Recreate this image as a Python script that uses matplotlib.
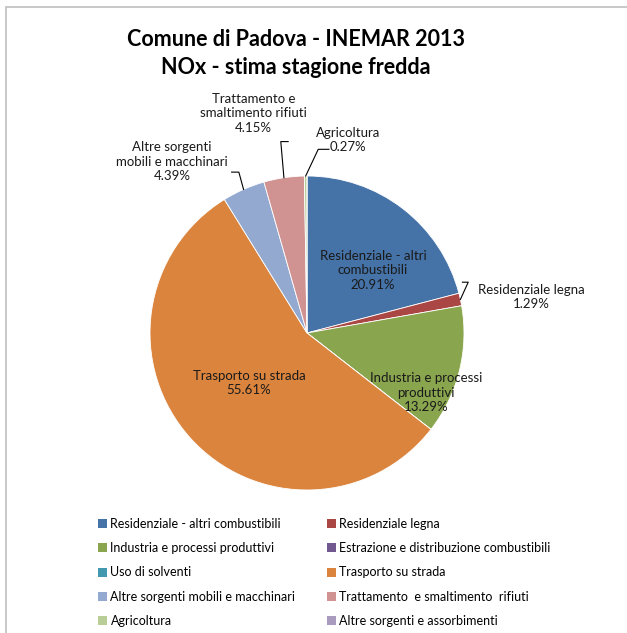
import matplotlib.pyplot as plt
import matplotlib.patches as patches
import numpy as np

# dati INEMAR 2013 - NOx stagione fredda (%)
categories = ['Residenziale - altri combustibili', 'Residenziale legna',
              'Industria e processi produttivi', 'Estrazione e distribuzione combustibili',
              'Uso di solventi', 'Trasporto su strada',
              'Altre sorgenti mobili e macchinari', 'Trattamento  e smaltimento  rifiuti',
              'Agricoltura', 'Altre sorgenti e assorbimenti']
values = [20.91, 1.29, 13.29, 0.0, 0.0, 55.61, 4.39, 4.15, 0.27, 0.0]
slice_labels = ['Residenziale - altri\ncombustibili', 'Residenziale legna', 'Industria e processi\nproduttivi',
                '', '', 'Trasporto su strada', 'Altre sorgenti\nmobili e macchinari',
                'Trattamento e\nsmaltimento rifiuti', 'Agricoltura', '']
colors = ['#4572A7', '#AA4643', '#89A54E', '#71588F', '#4198AF',
          '#DB843D', '#93A9CF', '#D19392', '#B9CD96', '#A99BBD']

plt.rcParams['font.family'] = ['Lato', 'DejaVu Sans']

W, H = 627, 633
cx, cy, R = 307, 333, 157
fig = plt.figure(figsize=(W / 100, H / 100), dpi=100)
ax = fig.add_axes([0, 0, 1, 1])

# cornice grigia del grafico
fig.patches.append(patches.Rectangle((6 / W, -0.05), 1.1, 1 - 7 / H + 0.05, transform=fig.transFigure,
                                     fill=False, edgecolor='#BFBFBF', lw=1.2))

wedges, _ = ax.pie(values, colors=colors, startangle=90, counterclock=False, radius=1,
                   wedgeprops=dict(edgecolor='white', linewidth=0.6))
ax.set_xlim(-cx / R, (W - cx) / R)
ax.set_ylim(-(H - cy) / R, cy / R)
ax.set_aspect('equal')
ax.axis('off')

# etichette interne
inner = {0: (0.42, 0.40), 2: (0.76, -0.38), 5: (-0.37, -0.32)}
for i, (x, y) in inner.items():
    ax.text(x, y, f'{slice_labels[i]}\n{values[i]:.2f}%', ha='center', va='center',
            fontsize=9.5, color='#1a1a1a', linespacing=1.25)

# etichette esterne con linee guida
outer = {1: (1.43, 0.23), 8: (0.26, 1.23), 7: (-0.34, 1.40), 6: (-0.86, 1.09)}
for i, (tx, ty) in outer.items():
    w = wedges[i]
    ang = np.deg2rad((w.theta1 + w.theta2) / 2)
    px, py = np.cos(ang), np.sin(ang)
    ax.text(tx, ty, f'{slice_labels[i]}\n{values[i]:.2f}%', ha='center', va='center',
            fontsize=9.5, color='#1a1a1a', linespacing=1.25)
    if i == 1:
        ax.plot([px, px + 0.05, tx - 0.44], [py, py + 0.11, py + 0.11], color='black', lw=0.8)
    elif i == 8:
        ax.plot([px, px + 0.08, tx - 0.12], [py, py + 0.17, py + 0.17], color='black', lw=0.8)
    elif i == 7:
        ax.plot([px, px - 0.02, tx + 0.22], [py, py + 0.23, py + 0.23], color='black', lw=0.8)
    else:
        ax.plot([px, px - 0.03, tx + 0.38], [py, py + 0.11, py + 0.11], color='black', lw=0.8)

fig.text(0.472, 1 - 39 / H, 'Comune di Padova - INEMAR 2013', ha='center', va='center',
         fontsize=15.5, fontweight='bold')
fig.text(0.472, 1 - 68 / H, 'NOx - stima stagione fredda', ha='center', va='center',
         fontsize=15.5, fontweight='bold')

# legenda in due colonne, ordine per righe
order = [0, 2, 4, 6, 8, 1, 3, 5, 7, 9]
handles = [patches.Patch(facecolor=colors[k]) for k in order]
labels = [categories[k] for k in order]
fig.legend(handles, labels, loc='upper left', bbox_to_anchor=(98 / W, 1 - 518 / H), ncol=2,
           frameon=False, fontsize=9, handlelength=0.75, handleheight=0.75, handletextpad=0.25,
           labelspacing=0.98, columnspacing=2.5, borderaxespad=0, borderpad=0)

plt.savefig('out.png', dpi=100)
